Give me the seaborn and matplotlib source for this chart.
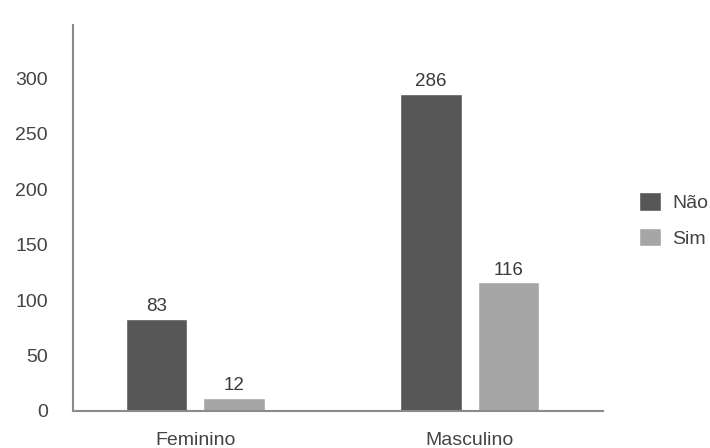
import matplotlib
matplotlib.use("Agg")
import matplotlib.pyplot as plt
import seaborn as sns
import pandas as pd

categories = ["Feminino", "Masculino"]
groups = ["Não", "Sim"]
nao_values = [83, 286]
sim_values = [12, 116]
y_ticks = [0, 50, 100, 150, 200, 250, 300]

df = pd.DataFrame({
    "sexo": categories * 2,
    "resposta": [groups[0]] * 2 + [groups[1]] * 2,
    "valor": nao_values + sim_values,
})

sns.set_theme(style="white")
plt.rcParams["font.family"] = ["Liberation Sans", "DejaVu Sans"]

fig = plt.figure(figsize=(7.1, 4.48), dpi=100)
ax = fig.add_axes([0.1028, 0.0826, 0.7465, 0.8616])

palette = {"Não": "#575757", "Sim": "#a6a6a6"}
sns.barplot(data=df, x="sexo", y="valor", hue="resposta", order=categories,
            hue_order=groups, palette=palette, width=0.567, gap=0.206,
            saturation=1, ax=ax, legend=True)

for cont in ax.containers:
    ax.bar_label(cont, padding=2.5, fontsize=13.5, color="#3a3a3a")

ax.set_xlim(-0.447, 1.487)
ax.set_ylim(0, 348)
ax.set_yticks(y_ticks)
ax.set_xlabel("")
ax.set_ylabel("")
ax.tick_params(axis="y", length=0, pad=18, labelsize=14, labelcolor="#444444")
ax.tick_params(axis="x", length=0, pad=15, labelsize=14, labelcolor="#444444")
for side in ["top", "right"]:
    ax.spines[side].set_visible(False)
for side in ["left", "bottom"]:
    ax.spines[side].set_color("#8a8a8a")
    ax.spines[side].set_linewidth(1.5)

handles, labels = ax.get_legend_handles_labels()
ax.get_legend().remove()
fig.legend(handles, labels, loc="upper left", bbox_to_anchor=(0.887, 0.593),
           frameon=False, fontsize=14, borderpad=0, handlelength=1.1,
           handleheight=1.1, handletextpad=0.6, labelspacing=0.8,
           labelcolor="#444444")

fig.savefig("out.png", dpi=100)
